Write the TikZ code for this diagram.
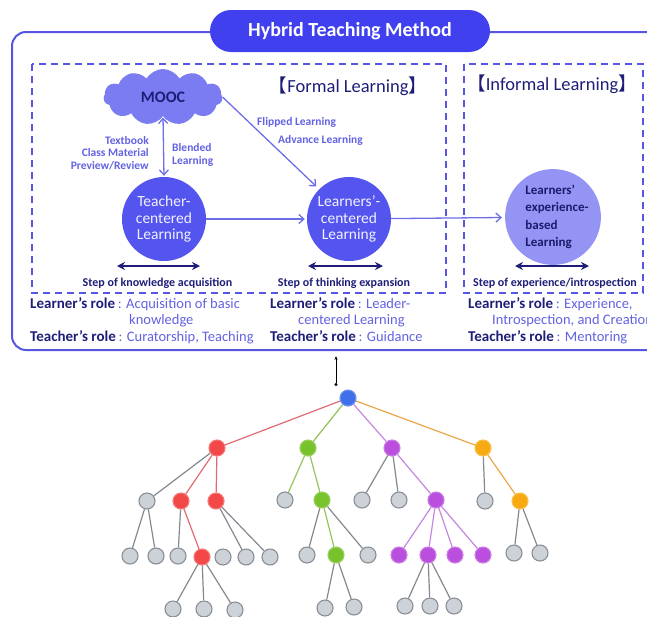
\documentclass[tikz,border=0pt]{standalone}
\usepackage{fontspec}
\setmainfont{Carlito}
\newfontfamily\cjk{Noto Sans CJK KR}
\usetikzlibrary{shapes.symbols,arrows.meta}

\definecolor{hybridblue}{HTML}{4040EE}
\definecolor{framecol}{HTML}{5656E2}
\definecolor{circlecol}{HTML}{5454EE}
\definecolor{cloudcol}{HTML}{7C7CF2}
\definecolor{expcol}{HTML}{9494F4}
\definecolor{navy}{HTML}{1E1E78}
\definecolor{softtext}{HTML}{6262E2}
\definecolor{arrowcol}{HTML}{6E6EE8}
\definecolor{nodegray}{HTML}{CDD1D8}
\definecolor{rimgray}{HTML}{8A8E95}
\definecolor{edgegray}{HTML}{85888E}
\definecolor{treeblue}{HTML}{3F6FEA}
\definecolor{treered}{HTML}{F24848}
\definecolor{treegreen}{HTML}{78C22C}
\definecolor{treepurple}{HTML}{B94FDC}
\definecolor{treeorange}{HTML}{F8AA12}
\definecolor{redline}{HTML}{E06A72}
\definecolor{greenline}{HTML}{94C45A}
\definecolor{purpleline}{HTML}{C487E0}
\definecolor{orangeline}{HTML}{EBA648}

\begin{document}
\begin{tikzpicture}[x=1pt,y=-1pt,
    >={Straight Barb[length=5pt,width=9pt]},
    frame/.style={draw=framecol, line width=2pt, rounded corners=14pt},
    zone/.style={draw=framecol, line width=1.6pt, dash pattern=on 7pt off 5pt},
    titlebox/.style={fill=hybridblue, text=white, rounded corners=21pt, minimum width=280pt,
      minimum height=42pt, font=\bfseries\fontsize{20}{22}\selectfont},
    heading/.style={text=navy, inner sep=0pt, font=\fontsize{18.5}{20}\selectfont},
    bigcircle/.style={circle, minimum size=84pt, inner sep=0pt, fill=circlecol,
      text=white!92!circlecol, align=center, font=\fontsize{15.5}{16.5}\selectfont},
    note/.style={text=softtext, inner sep=0pt, font=\bfseries\fontsize{11.5}{12.6}\selectfont},
    flow/.style={draw=arrowcol, line width=1.3pt},
    steparrow/.style={{Stealth[length=8pt,width=8pt]}-{Stealth[length=8pt,width=8pt]},
      draw=navy, line width=2.2pt},
    steplabel/.style={text=navy, inner sep=0pt, font=\bfseries\fontsize{12}{14}\selectfont},
    rolekey/.style={text=navy, inner sep=0pt, font=\bfseries\fontsize{15}{16}\selectfont},
    roleval/.style={text=softtext, inner sep=0pt, font=\fontsize{14.5}{16}\selectfont},
    tn/.style={circle, minimum size=16pt, inner sep=0pt, line width=1.1pt},
    edge/.style={line width=1.2pt}]

\useasboundingbox (0,0) rectangle (647,616);

% hybrid teaching method panel
\draw[frame] (12,32) rectangle (665,350);
\node[titlebox] (title) at (350,31) {Hybrid Teaching Method};
\draw[zone] (32,64) rectangle (446,293);
\draw[zone] (464,64) rectangle (643,293);
\node[heading, anchor=base] (formal) at (348,92) {{\cjk 【}Formal Learning{\cjk 】}};
\node[heading, anchor=base] (informal) at (552,90) {{\cjk 【}Informal Learning{\cjk 】}};

\node[cloud, cloud puffs=11, cloud puff arc=120, aspect=2.3, minimum width=119pt, minimum height=56pt,
  inner sep=0pt, fill=cloudcol, text=navy, font=\bfseries\fontsize{16}{18}\selectfont] (mooc) at (163,97) {MOOC};
\node[bigcircle] (teacher) at (164,219) {Teacher-\\centered\\Learning};
\node[bigcircle] (learners) at (349,219) {Learners’-\\centered\\Learning};
\node[bigcircle, minimum size=86pt, fill=expcol, text=navy!90!black, align=left,
  font=\bfseries\fontsize{13}{17.5}\selectfont] (experience) at (553,217) {\hspace*{8pt}Learners’\\\hspace*{8pt}experience-\\\hspace*{8pt}based\\\hspace*{8pt}Learning};

\draw[flow, <->, shorten <=1pt, shorten >=1pt] (mooc.south) -- (teacher.north);
\draw[flow, ->, shorten >=4pt] (mooc.east) -- (learners.north west);
\draw[flow, ->, shorten >=2pt] (teacher) -- (learners);
\draw[flow, ->, shorten >=3pt] (learners) -- (experience);

\node[note, anchor=east, align=right] (books) at (149,153) {Textbook\\Class Material\\Preview/Review};
\node[note, anchor=west, align=left] (blend) at (172,155) {Blended\\Learning};
\node[note, anchor=base west] (flip) at (257,125) {Flipped Learning};
\node[note, anchor=base west] (advance) at (278,143) {Advance Learning};

% steps
\coordinate (sA1) at (117,266); \coordinate (sA2) at (200,266);
\coordinate (sB1) at (308,266); \coordinate (sB2) at (383,266);
\coordinate (sC1) at (515,266); \coordinate (sC2) at (589,266);
\draw[steparrow] (sA1) -- (sA2);
\draw[steparrow] (sB1) -- (sB2);
\draw[steparrow] (sC1) -- (sC2);
\node[steplabel, anchor=base] (stepA) at (157.5,286) {Step of knowledge acquisition};
\node[steplabel, anchor=base] (stepB) at (344,286) {Step of thinking expansion};
\node[steplabel, anchor=base] (stepC) at (555,286) {Step of experience/introspection};

% roles
\node[rolekey, anchor=base west] (lkA) at (30,308) {Learner’s role};
\node[roleval, anchor=base west] (lvA) at (lkA.base east) {\,: Acquisition of basic};
\node[roleval, anchor=base west] (lwA) at (129,324) {knowledge};
\node[rolekey, anchor=base west] (tkA) at (30,341) {Teacher’s role};
\node[roleval, anchor=base west] (tvA) at (tkA.base east) {\,: Curatorship, Teaching};

\node[rolekey, anchor=base west] (lkB) at (270,308) {Learner’s role};
\node[roleval, anchor=base west] (lvB) at (lkB.base east) {\,: Leader-};
\node[roleval, anchor=base west] (lwB) at (298,324) {centered Learning};
\node[rolekey, anchor=base west] (tkB) at (270,341) {Teacher’s role};
\node[roleval, anchor=base west] (tvB) at (tkB.base east) {\,: Guidance};

\node[rolekey, anchor=base west] (lkC) at (468,308) {Learner’s role};
\node[roleval, anchor=base west] (lvC) at (lkC.base east) {\,: Experience,};
\node[roleval, anchor=base west] (lwC) at (492,324) {Introspection, and Creation};
\node[rolekey, anchor=base west] (tkC) at (468,341) {Teacher’s role};
\node[roleval, anchor=base west] (tvC) at (tkC.base east) {\,: Mentoring};

% tree
\foreach \n/\x/\y/\c in {root/348/398/treeblue, a/217/448/treered, b/308/448/treegreen,
    c/392/448/treepurple, d/483/448/treeorange, a2/181/501/treered, a3/216/501/treered,
    b2/322/500/treegreen, c3/436/500/treepurple, d2/520/501/treeorange, a22/202/557/treered,
    b22/336/555/treegreen, c31/399/555/treepurple, c32/428/555/treepurple,
    c33/455/555/treepurple, c34/483/555/treepurple}
  \node[tn, fill=\c, draw=\c!75!white] (\n) at (\x,\y) {};
\foreach \n/\x/\y in {a1/147/501, b1/285/500, c1/362/500, c2/399/500, d1/485/501,
    a11/130/556, a12/156/556, a21/178/556, a30/223/557, a31/246/557, a32/270/557,
    b21/307/555, b23/368/555, d21/514/553, d22/540/553, a221/173/609, a222/204/609,
    a223/235/610, b221/325/608, b222/354/607, c321/405/606, c322/430/606, c323/454/606}
  \node[tn, fill=nodegray, draw=rimgray] (\n) at (\x,\y) {};
\foreach \p/\q/\c in {root/a/redline, root/b/greenline, root/c/purpleline, root/d/orangeline,
    a/a1/edgegray, a/a2/redline, a/a3/redline, b/b1/greenline, b/b2/greenline,
    c/c1/edgegray, c/c2/edgegray, c/c3/purpleline, d/d1/edgegray, d/d2/orangeline,
    a1/a11/edgegray, a1/a12/edgegray, a2/a21/edgegray, a2/a22/redline,
    a3/a31/edgegray, a3/a32/edgegray, b2/b21/edgegray, b2/b22/greenline, b2/b23/edgegray,
    c3/c31/purpleline, c3/c32/purpleline, c3/c33/purpleline, c3/c34/purpleline,
    d2/d21/edgegray, d2/d22/edgegray, a22/a221/edgegray, a22/a222/edgegray, a22/a223/edgegray,
    b22/b221/edgegray, b22/b222/edgegray, c32/c321/edgegray, c32/c322/edgegray, c32/c323/edgegray}
  \draw[edge, draw=\c] (\p) -- (\q);

% link between panel and tree
\coordinate (linkTop) at (336,356);
\coordinate (linkBot) at (336,386);
\draw[{Circle[length=3pt]}-{Stealth[length=4pt,width=3pt]}, line width=0.8pt] (linkBot) -- (linkTop);
\end{tikzpicture}
\end{document}
